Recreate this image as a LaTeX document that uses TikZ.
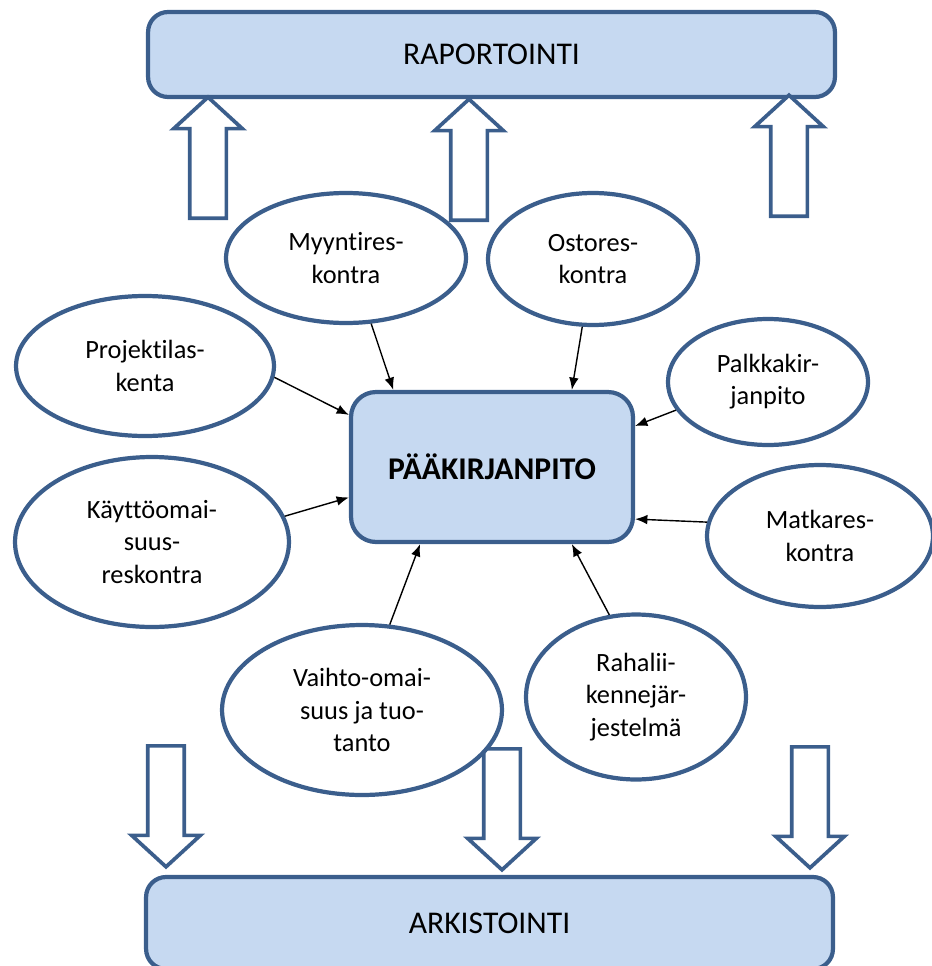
\documentclass[tikz,border=0pt]{standalone}
\usepackage{fontspec}
\setmainfont[Ligatures = NoCommon]{Carlito}
\usetikzlibrary{shapes.geometric,shapes.arrows,arrows.meta}
\definecolor{frame}{HTML}{3B5E8C}
\definecolor{boxfill}{HTML}{C6D9F1}

\begin{document}
\begin{tikzpicture}[
    x = 0.02cm, y = -0.02cm,
    wide/.style = {draw = frame, fill = boxfill, line width = 2.4pt, rounded corners = 0.4cm, minimum width = 13.74cm, font = \fontsize{18}{22}\selectfont},
    core/.style = {draw = frame, fill = boxfill, line width = 2.4pt, rounded corners = 0.5cm, minimum width = 5.64cm, minimum height = 3cm, font = \fontsize{18}{22}\selectfont\bfseries},
    ledger/.style = {shape = ellipse, draw = frame, fill = white, line width = 2.4pt, inner sep = 0pt, align = center, font = \fontsize{15}{18.3}\selectfont},
    bigup/.style = {shape = single arrow, draw = frame, fill = white, line width = 2.1pt, inner xsep = 0pt, inner ysep = 0.33cm, minimum height = 2.42cm, single arrow head extend = 0.32cm, single arrow tip angle = 95, rotate = 90, anchor = tail},
    bigdown/.style = {bigup, rotate = 180},
    feed/.style = {-{Latex[length = 7pt, width = 5.5pt]}, line width = 0.8pt},
    ]
    \useasboundingbox (0, 0) rectangle (932, 966);

    \node[wide, minimum height = 1.7cm] (rapo) at (491.5, 54.5) {RAPORTOINTI};
    \node[wide, minimum height = 1.84cm] (arki) at (489.5, 923) {ARKISTOINTI};
    \node[core] (paa) at (492, 467) {PÄÄKIRJANPITO};

    \node[bigup] (up1) at (208, 220) {};
    \node[bigup] (up2) at (469, 222) {};
    \node[bigup] (up3) at (789, 218) {};

    \node[bigdown] (down1) at (166, 744) {};
    \node[bigdown] (down2) at (502, 747) {};
    \node[bigdown] (down3) at (810, 745) {};

    \node[ledger, minimum width = 4.8cm, minimum height = 2.6cm] (myynti) at (346, 258) {Myyntires-\\kontra};
    \node[ledger, minimum width = 4.2cm, minimum height = 2.64cm] (osto) at (593, 259) {Ostores-\\kontra};
    \node[ledger, minimum width = 5.16cm, minimum height = 2.8cm] (projekti) at (145, 366) {Projektilas-\\kenta};
    \node[ledger, minimum width = 4cm, minimum height = 2.52cm] (palkka) at (768, 382) {Palkkakir-\\janpito};
    \node[ledger, minimum width = 5.48cm, minimum height = 3.4cm] (kaytto) at (152, 542) {Käyttöomai-\\suus-\\reskontra};
    \node[ledger, minimum width = 4.52cm, minimum height = 2.84cm] (matka) at (820, 536) {Matkares-\\kontra};
    \node[ledger, minimum width = 5.6cm, minimum height = 3.4cm] (vaihto) at (362, 710) {Vaihto-omai-\\suus ja tuo-\\tanto};
    \node[ledger, minimum width = 4.4cm, minimum height = 3.3cm] (raha) at (636, 697) {Rahalii-\\kennejär-\\jestelmä};

    \draw[feed] (myynti.291) -- (paa.142);
    \draw[feed] (osto.261) -- (paa.44);
    \draw[feed] (projekti.355) -- (paa.160);
    \draw[feed] (palkka.197) -- (paa.16);
    \draw[feed] (kaytto.11) -- (paa.192);
    \draw[feed] (matka.173) -- (paa.340);
    \draw[feed] (vaihto.72) -- (paa.227);
    \draw[feed] (raha.108) -- (paa.316);
\end{tikzpicture}
\end{document}
